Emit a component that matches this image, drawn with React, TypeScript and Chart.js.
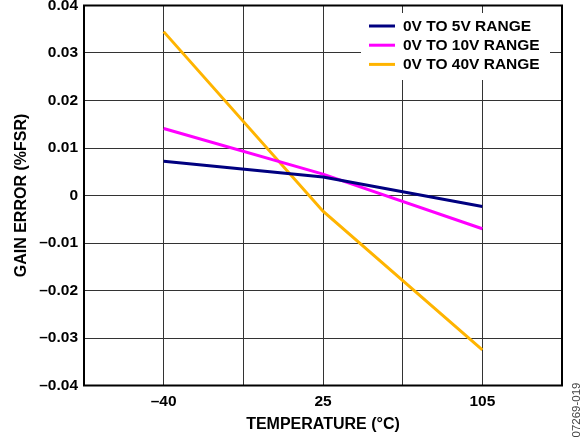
import React, { useEffect, useRef } from 'react';
import { Chart, registerables } from 'chart.js';

Chart.register(...registerables);

// X slots (equal spacing); only three carry a temperature label
const xSlots = ['', '–40', '', '25', '', '105', ''];
const temperatures = ['–40', '25', '105'];

// Gain error (%FSR) at each temperature
const range5V = [0.0072, 0.0039, -0.0023];
const range10V = [0.0141, 0.0045, -0.007];
const range40V = [0.0345, -0.0033, -0.0325];

const seriesLabels = ['0V TO 5V RANGE', '0V TO 10V RANGE', '0V TO 40V RANGE'];
const seriesColors = ['#000080', '#FF00FF', '#FFB400'];

const yMin = -0.04;
const yMax = 0.04;
const yStep = 0.01;

const xTitle = 'TEMPERATURE (°C)';
const yTitle = 'GAIN ERROR (%FSR)';
const sideNote = '07269-019';

const FONT = '"Liberation Sans", Arial, sans-serif';

const toSlots = (vals: number[]) =>
  xSlots.map((l) => {
    const i = temperatures.indexOf(l);
    return i >= 0 ? vals[i] : null;
  });

const fmtY = (v: number) => {
  if (Math.abs(v) < 1e-9) return '0';
  return v.toFixed(2).replace('-', '–');
};

const decorPlugin = {
  id: 'decor',
  afterDraw(chart: any) {
    const { ctx, chartArea } = chart;
    const { left, right, top, bottom } = chartArea;
    ctx.save();
    // frame
    ctx.strokeStyle = '#000';
    ctx.lineWidth = 2;
    ctx.strokeRect(left, top, right - left, bottom - top);

    // legend
    ctx.fillStyle = '#fff';
    ctx.fillRect(361, 13, 189, 67);
    const ds = chart.data.datasets;
    ds.forEach((d: any, i: number) => {
      const y = 26 + i * 19.2;
      ctx.strokeStyle = d.borderColor;
      ctx.lineWidth = 3;
      ctx.beginPath();
      ctx.moveTo(369, y);
      ctx.lineTo(395, y);
      ctx.stroke();
      ctx.fillStyle = '#000';
      ctx.font = `bold 15.5px ${FONT}`;
      ctx.textAlign = 'left';
      ctx.textBaseline = 'middle';
      ctx.fillText(d.label, 403, y + 0.5);
    });

    // axis titles
    ctx.fillStyle = '#000';
    ctx.font = `bold 16px ${FONT}`;
    ctx.textAlign = 'center';
    ctx.textBaseline = 'middle';
    ctx.fillText(xTitle, (left + right) / 2, 425);
    ctx.save();
    ctx.translate(21.5, (top + bottom) / 2);
    ctx.rotate(-Math.PI / 2);
    ctx.fillText(yTitle, 0, 0);
    ctx.restore();

    // side note
    ctx.save();
    ctx.translate(577, 410);
    ctx.rotate(-Math.PI / 2);
    ctx.fillStyle = '#444';
    ctx.font = `11.5px ${FONT}`;
    ctx.fillText(sideNote, 0, 0);
    ctx.restore();

    ctx.restore();
  },
};

export default function App() {
  const ref = useRef<HTMLCanvasElement | null>(null);

  useEffect(() => {
    if (!ref.current) return;
    const all = [range5V, range10V, range40V];
    const chart = new Chart(ref.current, {
      type: 'line',
      data: {
        labels: xSlots,
        datasets: all.map((vals, i) => ({
          label: seriesLabels[i],
          data: toSlots(vals),
          borderColor: seriesColors[i],
          backgroundColor: seriesColors[i],
          borderWidth: 3,
          pointRadius: 0,
          tension: 0,
          spanGaps: true,
          fill: false,
        })),
      },
      options: {
        responsive: false,
        animation: false,
        devicePixelRatio: 1,
        layout: { padding: { top: 5.5, right: 22, bottom: 0, left: 0 } },
        plugins: {
          legend: { display: false },
          tooltip: { enabled: false },
        },
        scales: {
          x: {
            type: 'category',
            offset: false,
            grid: { color: '#333', lineWidth: 1, drawTicks: false },
            border: { display: false },
            ticks: {
              autoSkip: false,
              maxRotation: 0,
              padding: 7,
              color: '#000',
              font: { family: FONT, size: 15.5, weight: 'bold' },
            },
            afterFit(scale: any) {
              scale.height = 54.5;
              scale.paddingLeft = 0;
              scale.paddingRight = 0;
            },
          },
          y: {
            min: yMin,
            max: yMax,
            grid: { color: '#333', lineWidth: 1, drawTicks: false },
            border: { display: false },
            ticks: {
              stepSize: yStep,
              padding: 6,
              color: '#000',
              font: { family: FONT, size: 15.5, weight: 'bold' },
              callback: (v: any) => fmtY(Number(v)),
            },
            afterFit(scale: any) {
              scale.width = 84;
              scale.paddingTop = 0;
              scale.paddingBottom = 0;
            },
          },
        },
      },
      plugins: [decorPlugin],
    } as any);
    return () => chart.destroy();
  }, []);

  return (
    <div style={{ position: 'fixed', left: 0, top: 0, width: 584, height: 440, background: '#fff' }}>
      <canvas ref={ref} width={584} height={440} />
    </div>
  );
}
